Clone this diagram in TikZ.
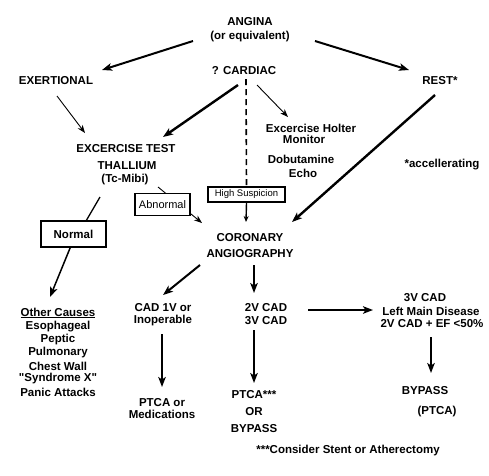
\documentclass[tikz,border=0pt]{standalone}
\usepackage{fontspec}
\setmainfont{Liberation Sans}
\usetikzlibrary{arrows.meta,calc}
\begin{document}
\begin{tikzpicture}[x=1pt,y=-1pt,
  txt/.style={font=\bfseries\fontsize{11.5}{13}\selectfont,inner sep=0pt,anchor=center},
  boxn/.style={draw,line width=1.6pt,fill=white,inner sep=0pt},
  thick arr/.style={line width=2pt,-{Stealth[length=10pt,width=7.5pt,inset=2.5pt]}},
  thin arr/.style={line width=0.9pt,-{Stealth[length=8pt,width=6pt,inset=2.5pt]}},
  plainln/.style={line width=1.3pt}]
\useasboundingbox (0,0) rectangle (489,475);
\fill[white] (0,0) rectangle (489,475);
% text nodes
\node[txt] (angina) at (250,22) {ANGINA};
\node[txt] (equiv) at (250,37) {(or equivalent)};
\node[txt] (exert) at (56,81) {EXERTIONAL};
\node[txt] (cardiac) at (244,71) {? CARDIAC};
\node[txt] (rest) at (440,81) {REST*};
\node[txt] (holterA) at (311,128) {Excercise Holter};
\node[txt] (holterB) at (304,139) {Monitor};
\node[txt] (dobA) at (301,159) {Dobutamine};
\node[txt] (dobB) at (303,173) {Echo};
\node[txt] (extest) at (126,149) {EXCERCISE TEST};
\node[txt] (thal) at (127,166) {THALLIUM};
\node[txt] (tcmibi) at (125,180) {(Tc-Mibi)};
\node[txt] (accel) at (442,165) {*accellerating};
\node[txt] (coronary) at (250,238) {CORONARY};
\node[txt] (angio) at (250,254) {ANGIOGRAPHY};
\node[txt] (cad1a) at (163,308) {CAD 1V or};
\node[txt] (cad1b) at (163,321) {Inoperable};
\node[txt] (cad2a) at (266,308) {2V CAD};
\node[txt] (cad2b) at (266,321) {3V CAD};
\node[txt] (cad3a) at (425,298) {3V CAD};
\node[txt] (cad3b) at (431,311) {Left Main Disease};
\node[txt] (cad3c) at (432,324) {2V CAD + EF <50\%};
\node[txt] (other1) at (58,313) {\underline{Other Causes}};
\node[txt] (other2) at (58,327) {Esophageal};
\node[txt] (other3) at (58,340) {Peptic};
\node[txt] (other4) at (58,353) {Pulmonary};
\node[txt] (other5) at (58,366) {Chest Wall};
\node[txt] (other6) at (58,379) {\textquotedbl Syndrome X\textquotedbl};
\node[txt] (other7) at (58,392) {Panic Attacks};
\node[txt] (ptcaA) at (162,403) {PTCA or};
\node[txt] (ptcaB) at (162,414) {Medications};
\node[txt] (p2a) at (254,395) {PTCA***};
\node[txt] (p2b) at (254,412) {OR};
\node[txt] (p2c) at (254,429) {BYPASS};
\node[txt] (byp) at (425,391) {BYPASS};
\node[txt] (bypp) at (437,412) {(PTCA)};
\node[txt] (consider) at (348,451) {***Consider Stent or Atherectomy};
% connectors
\draw[thick arr] ($(angina)+(-57,19)$) -- ($(exert)+(46,-11)$);
\draw[thick arr] ($(angina)+(65,19)$) -- ($(rest)+(-31,-11)$);
\draw[thin arr] ($(exert)+(1,15)$) -- ($(extest)+(-41,-16)$);
\draw[thick arr,line width=2.4pt] ($(cardiac)+(-6,14)$) -- ($(extest)+(37,-12)$);
\draw[thin arr] ($(cardiac)+(13,14)$) -- ($(holterA)+(-23,-11)$);
\draw[thick arr,line width=2.4pt] ($(rest)+(-5,14)$) -- ($(coronary)+(42,-16)$);
\draw[thin arr] ($(tcmibi)+(33,7)$) -- ($(coronary)+(-48,-15)$);
% boxes
\node[boxn,minimum width=55pt,minimum height=22pt,font=\fontsize{11}{13}\selectfont] (abnormal) at (162.5,204.5) {Abnormal};
\node[boxn,minimum width=77pt,minimum height=15pt,font=\fontsize{9.5}{11}\selectfont] (highs) at (246.5,194.5) {High Suspicion};
\node[boxn,minimum width=65pt,minimum height=26pt,font=\bfseries\fontsize{11.5}{13}\selectfont] (normal) at (73.5,234) {Normal};
\draw[line width=1.6pt,dash pattern=on 6pt off 4pt] ($(cardiac)+(2,8)$) -- (highs.north);
\draw[line width=1.4pt,-{Stealth[length=6pt,width=5pt,inset=2pt]}] (highs.south) -- ($(coronary)+(-4,-16)$);
\draw[plainln] ($(thal)+(-27,31)$) -- ($(normal)+(12.5,-13)$);
\draw[thick arr,line width=1.5pt] ($(normal)+(-3,13)$) -- ($(other1)+(-8,-16)$);
\draw[thick arr] ($(angio)+(-50,11)$) -- ($(cad1a)+(0,-13)$);
\draw[thick arr] ($(angio)+(4,11)$) -- ($(cad2a)+(-12,-15)$);
\draw[thick arr] ($(cad2a)+(42,2)$) -- ($(cad3b)+(-58,-1)$);
\draw[thick arr] ($(cad1b)+(-1,13)$) -- ($(ptcaA)+(0,-16)$);
\draw[thick arr] ($(cad2b)+(-12,9)$) -- ($(p2a)+(0,-12)$);
\draw[thick arr] ($(cad3c)+(-1,13)$) -- ($(byp)+(6,-18)$);
\end{tikzpicture}
\end{document}
